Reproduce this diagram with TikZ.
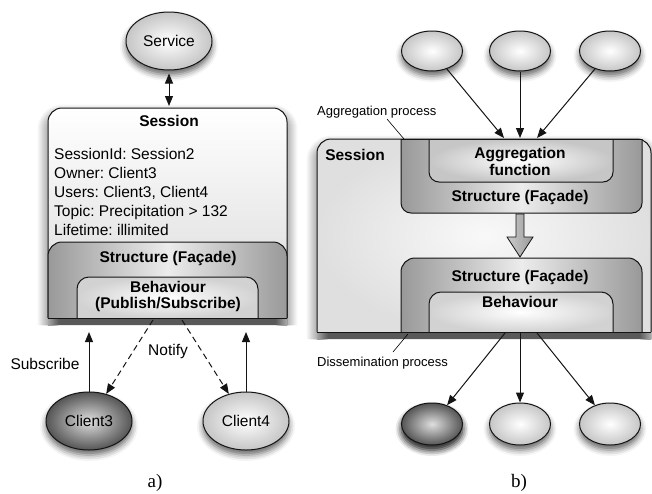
\documentclass[tikz,border=0pt]{standalone}
\usepackage{fontspec}
\setmainfont{Liberation Serif}
\setsansfont{Liberation Sans}
\frenchspacing
\usepackage{tikz}
\usetikzlibrary{arrows.meta,shapes.geometric,shadows,shadows.blur,positioning,calc}
\usepackage{xcolor}
\definecolor{sgline}{RGB}{20,20,20}
\definecolor{sgdark}{RGB}{85,85,85}
\tikzstyle{peer} = [ellipse, draw=sgline, line width=1pt, shading=radial, inner color=white, outer color=gray!45, minimum width=86pt, minimum height=58pt, blur shadow={shadow xshift=0pt, shadow yshift=-5pt, shadow blur radius=6pt, shadow opacity=60}]
\tikzstyle{darkpeer} = [peer, inner color=gray!25, outer color=sgdark]
\tikzstyle{smallpeer} = [peer, minimum width=61pt, minimum height=40pt]
\tikzstyle{box} = [draw=sgline, line width=1pt]
\tikzstyle{sessionshade} = [top color=white, bottom color=gray!30]
\tikzstyle{structshade} = [left color=gray!80, right color=gray!80, middle color=gray!15]
\tikzstyle{behavshade} = [shading=radial, inner color=white, outer color=gray!35]
\tikzstyle{boxshadow} = [blur shadow={shadow xshift=0pt, shadow yshift=-7pt, shadow blur radius=11pt, shadow blur steps=12, shadow opacity=65}]
\tikzstyle{arrow} = [line width=1pt, -{Triangle[length=10pt,width=8pt]}, sgline]
\tikzstyle{title} = [font=\sffamily\bfseries\fontsize{15.5}{18}\selectfont]
\tikzstyle{plain} = [font=\sffamily\fontsize{15.5}{19}\selectfont]
\tikzstyle{note} = [font=\sffamily\fontsize{13}{15}\selectfont]
\tikzstyle{caption} = [font=\rmfamily\fontsize{19}{21}\selectfont]

\begin{document}
\begin{tikzpicture}[x=1pt, y=-1pt, inner sep=0pt, plain]
\useasboundingbox (0,0) rectangle (652,493);

% a) session seen from its service and clients
\node[peer] (service) at (169,41) {Service};

\path[box, sessionshade, boxshadow, rounded corners=14pt]
  (48,318) -- (48,108) -- (287,108) -- (287,318);
\path[box, structshade, rounded corners=14pt]
  (48,318) -- (48,242) -- (287,242) -- (287,318);
\path[box, behavshade, rounded corners=12pt]
  (77,318) -- (77,277) -- (258,277) -- (258,318);
\draw[box] (48,318) -- (287,318);

\coordinate (sessA-n) at (169,106);
\coordinate (sessA-sw) at (89,332);
\coordinate (sessA-se) at (246,332);
\coordinate (behavA-l) at (153,320);
\coordinate (behavA-r) at (182,320);

\node[title] (sessA) at (169,121) {Session};
\node[plain, anchor=west, align=left] (attrA) at (54,192) {%
SessionId: Session2\\
Owner: Client3\\
Users: Client3, Client4\\
Topic: Precipitation > 132\\
Lifetime: illimited};
\node[title] (structA) at (168,258) {Structure (Façade)};
\node[title, align=center] (behavA) at (168,296) {Behaviour\\[-2pt](Publish/Subscribe)};

\node[darkpeer] (client3) at (89,421) {Client3};
\node[peer] (client4) at (246,421) {Client4};

\draw[arrow, {Triangle[length=10pt,width=8pt]}-{Triangle[length=10pt,width=8pt]}, shorten <=3pt] (service) -- (sessA-n);
\draw[arrow] (client3) -- (sessA-sw);
\draw[arrow] (client4) -- (sessA-se);
\draw[arrow, dashed, dash pattern=on 6pt off 4pt] (behavA-l) -- (client3);
\draw[arrow, dashed, dash pattern=on 6pt off 4pt] (behavA-r) -- (client4);
\node[plain] (subscribe) at (45,364) {Subscribe};
\node[plain] (notify) at (168,351) {Notify};

\node[caption] (capA) at (155,483) {a)};

% b) aggregation and dissemination inside a session
\path[box, shading=radial, inner color=gray!5, outer color=gray!25, boxshadow, rounded corners=14pt]
  (317,332) -- (317,139) -- (651,139) -- (651,332);
\path[box, structshade, rounded corners=10pt]
  (401,139) -- (401,213) -- (642,213) -- (642,139);
\path[box, behavshade, outer color=gray!45, rounded corners=10pt]
  (429,139) -- (429,182) -- (613,182) -- (613,139);
\draw[box] (401,139) -- (642,139);
\path[box, structshade, rounded corners=14pt]
  (401,332) -- (401,258) -- (642,258) -- (642,332);
\path[box, behavshade, rounded corners=12pt]
  (429,332) -- (429,292) -- (613,292) -- (613,332);
\draw[box] (317,332) -- (651,332);

% thick arrow between the two structures
\path[draw=sgline, line width=0.8pt, left color=gray!40, right color=gray!80]
  (516,214) -- (516,237) -- (507,237) -- (520,257) -- (533,237) -- (524,237) -- (524,214) -- cycle;

\node[title] (sessB) at (355,155) {Session};
\node[title, align=center] (aggr) at (520,161) {Aggregation\\[-1pt]function};
\node[title] (structB1) at (520,197) {Structure (Façade)};
\node[title] (structB2) at (520,277) {Structure (Façade)};
\node[title] (behavB) at (520,302) {Behaviour};

\coordinate (aggr-l) at (504,138);
\coordinate (aggr-m) at (520,138);
\coordinate (aggr-r) at (537,138);
\coordinate (behavB-l) at (505,333);
\coordinate (behavB-m) at (520,333);
\coordinate (behavB-r) at (537,333);

\foreach \i/\x in {1/432,2/520,3/610}{
  \node[smallpeer] (src\i) at (\x,51) {};
}
\node[smallpeer, darkpeer, minimum width=61pt, minimum height=42pt] (dst1) at (432,424) {};
\node[smallpeer, minimum height=42pt] (dst2) at (520,424) {};
\node[smallpeer, minimum height=42pt] (dst3) at (610,424) {};

\draw[arrow] (src1) -- (aggr-l);
\draw[arrow] (src2) -- (aggr-m);
\draw[arrow] (src3) -- (aggr-r);
\draw[arrow] (behavB-l) -- (dst1);
\draw[arrow] (behavB-m) -- (dst2);
\draw[arrow] (behavB-r) -- (dst3);

\node[note, anchor=west] (aggrnote) at (317,112) {Aggregation process};
\coordinate (aggrnote-to) at (404,139);
\draw[line width=0.6pt] (387,119) -- (aggrnote-to);
\node[note, anchor=west] (dissnote) at (317,363) {Dissemination process};
\coordinate (dissnote-to) at (408,334);
\draw[line width=0.6pt] (393,352) -- (dissnote-to);

\node[caption] (capB) at (519,483) {b)};
\end{tikzpicture}
\end{document}
